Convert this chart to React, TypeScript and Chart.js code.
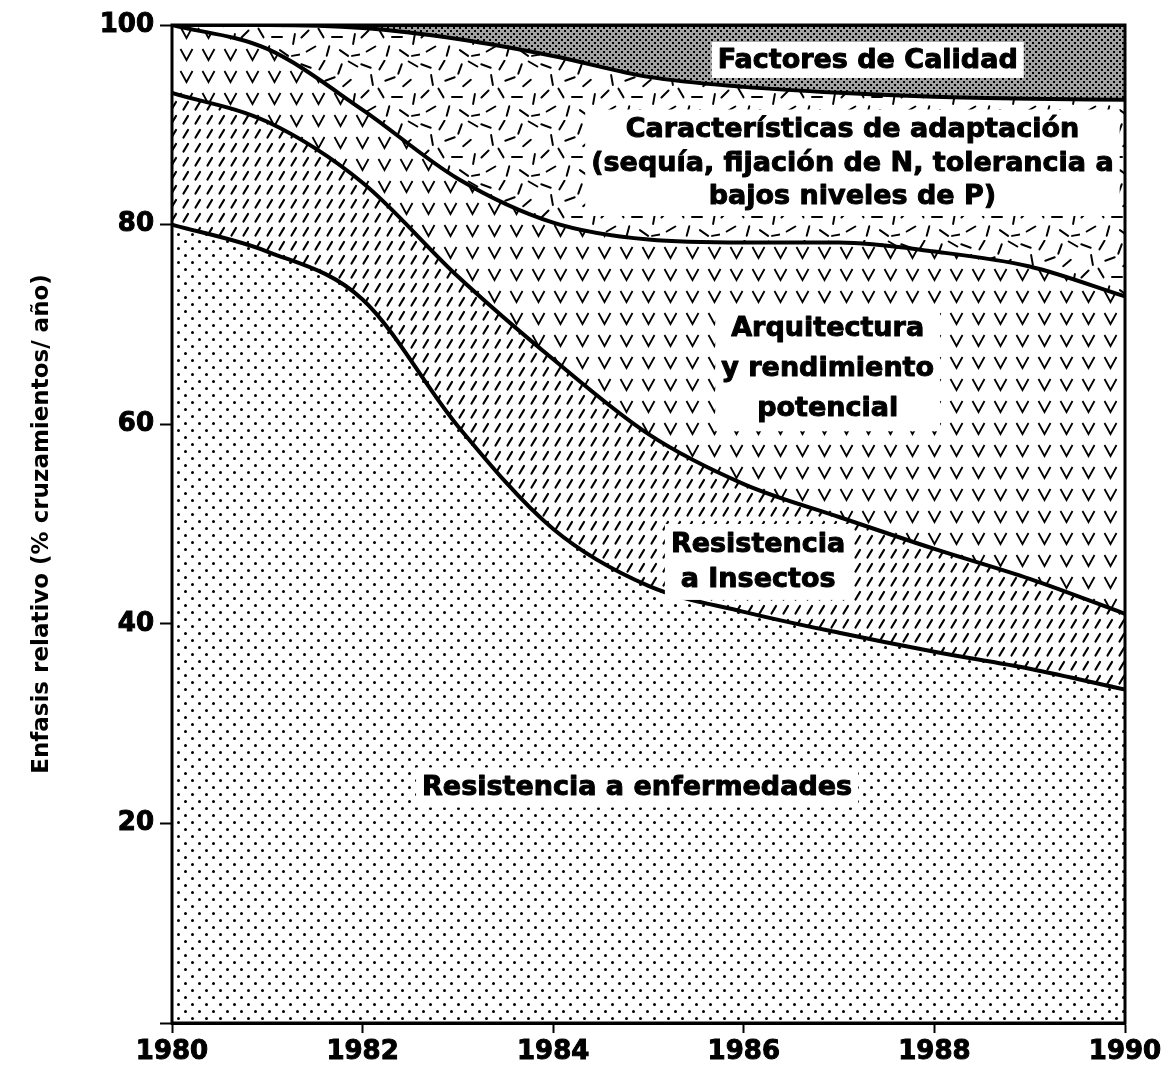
import React, { useEffect, useRef } from 'react';
import { Chart, registerables } from 'chart.js';

Chart.register(...registerables);

// ---- data ----
const years = [1980, 1981, 1982, 1983, 1984, 1985, 1986, 1987, 1988, 1989, 1990];
const disease = [80, 77.3, 72.5, 59.8, 49.5, 43.8, 41.2, 39.1, 37.2, 35.5, 33.4];
const insects = [13.2, 13, 11.7, 15, 17, 15.2, 12.8, 11.6, 10.3, 9, 7.6];
const architecture = [6.8, 7.3, 7.3, 9.8, 13.7, 19.5, 24.2, 27.5, 29.8, 31.3, 31.8];
const adaptation = [0, 2.4, 8.2, 14, 16.7, 16.3, 15.6, 15, 15.5, 16.8, 19.7];
const quality = [0, 0, 0.3, 1.4, 3.1, 5.2, 6.2, 6.8, 7.2, 7.4, 7.5];

const yAxisTitle = 'Enfasis relativo (% cruzamientos/ año)';

const areaLabels = [
  { lines: ['Factores de Calidad'], x: 1987.3, y: 96.5, lineH: 30 },
  {
    lines: ['Características de adaptación', '(sequía, fijación de N, tolerancia a', 'bajos niveles de P)'],
    x: 1987.14,
    y: 86.2,
    lineH: 33.5,
  },
  { lines: ['Arquitectura', 'y rendimiento', 'potencial'], x: 1986.88, y: 65.6, lineH: 40 },
  { lines: ['Resistencia', 'a Insectos'], x: 1986.15, y: 46.2, lineH: 35 },
  { lines: ['Resistencia a enfermedades'], x: 1984.88, y: 23.6, lineH: 34 },
];

const FONT = '"DejaVu Sans", "Liberation Sans", Arial, sans-serif';

// decorative dash layout for the "adaptation" texture tile: [cx, cy, angleDeg]
const adaptDashes = [
  [6, 6, 20], [22, 5, -60], [40, 9, 110], [53, 4, 30],
  [12, 20, 80], [30, 19, -20], [47, 23, 140], [5, 34, -45],
  [21, 33, 60], [37, 37, 0], [54, 39, 100], [11, 49, 150],
  [28, 51, -75], [44, 53, 35], [57, 55, -10],
];

function makePattern(
  ctx: CanvasRenderingContext2D,
  w: number,
  h: number,
  draw: (g: CanvasRenderingContext2D) => void,
  bg = '#ffffff'
) {
  const c = document.createElement('canvas');
  c.width = w;
  c.height = h;
  const g = c.getContext('2d')!;
  g.fillStyle = bg;
  g.fillRect(0, 0, w, h);
  g.fillStyle = '#000';
  g.strokeStyle = '#000';
  g.lineCap = 'round';
  draw(g);
  return ctx.createPattern(c, 'repeat')!;
}

export default function App() {
  const ref = useRef<HTMLCanvasElement | null>(null);

  useEffect(() => {
    const canvas = ref.current!;
    const ctx = canvas.getContext('2d')!;

    const dots = makePattern(ctx, 14, 14, (g) => {
      g.beginPath();
      g.arc(3.5, 3.5, 1.5, 0, Math.PI * 2);
      g.arc(10.5, 10.5, 1.5, 0, Math.PI * 2);
      g.fill();
    });
    const slashes = makePattern(ctx, 12, 14, (g) => {
      g.lineWidth = 2.2;
      g.beginPath();
      g.moveTo(3.5, 11.5);
      g.lineTo(8, 4);
      g.stroke();
    });
    const vees = makePattern(ctx, 22, 22, (g) => {
      g.lineWidth = 1.8;
      g.lineCap = 'butt';
      g.lineJoin = 'miter';
      g.beginPath();
      g.moveTo(4.5, 5);
      g.lineTo(10.5, 16);
      g.lineTo(16.5, 5);
      g.stroke();
    });
    const randomDashes = makePattern(ctx, 60, 60, (g) => {
      g.lineWidth = 2;
      for (const [cx, cy, a] of adaptDashes) {
        const r = (a * Math.PI) / 180;
        const dx = Math.cos(r) * 5;
        const dy = Math.sin(r) * 5;
        g.beginPath();
        g.moveTo(cx - dx, cy - dy);
        g.lineTo(cx + dx, cy + dy);
        g.stroke();
      }
    });
    const mesh = makePattern(
      ctx,
      6,
      6,
      (g) => {
        g.fillRect(0, 0, 2, 2);
        g.fillRect(3, 3, 2, 2);
      },
      '#a2a2a2'
    );

    const toPts = (arr: number[]) => years.map((x, i) => ({ x, y: arr[i] }));

    const common = {
      borderColor: '#000',
      borderWidth: 4,
      pointRadius: 0,
      cubicInterpolationMode: 'monotone' as const,
    };

    const framePlugin = {
      id: 'frameAndLabels',
      afterDatasetsDraw(chart: any) {
        const c = chart.ctx as CanvasRenderingContext2D;
        const { left, right, top, bottom } = chart.chartArea;
        c.save();
        c.strokeStyle = '#000';
        c.lineWidth = 3;
        c.strokeRect(left, top, right - left, bottom - top);

        const xs = chart.scales.x;
        const ys = chart.scales.y;
        c.font = `bold 27px ${FONT}`;
        c.textAlign = 'center';
        c.textBaseline = 'middle';
        c.lineJoin = 'round';
        for (const lab of areaLabels) {
          const cx = xs.getPixelForValue(lab.x);
          const cy = ys.getPixelForValue(lab.y);
          const w = Math.max(...lab.lines.map((l) => c.measureText(l).width));
          const h = lab.lines.length * lab.lineH;
          c.fillStyle = '#fff';
          c.fillRect(cx - w / 2 - 6, cy - h / 2 - 3, w + 12, h + 6);
          c.fillStyle = '#000';
          c.strokeStyle = '#000';
          c.lineWidth = 1;
          lab.lines.forEach((l, i) => {
            const ty = cy - h / 2 + lab.lineH * (i + 0.5) + 1;
            c.fillText(l, cx, ty);
            c.strokeText(l, cx, ty);
          });
        }
        c.restore();
      },
    };

    const chart = new Chart(ctx, {
      type: 'line',
      data: {
        datasets: [
          { ...common, label: 'Resistencia a enfermedades', data: toPts(disease), backgroundColor: dots, fill: 'origin' },
          { ...common, label: 'Resistencia a Insectos', data: toPts(insects), backgroundColor: slashes, fill: '-1' },
          { ...common, label: 'Arquitectura y rendimiento potencial', data: toPts(architecture), backgroundColor: vees, fill: '-1' },
          { ...common, label: 'Características de adaptación', data: toPts(adaptation), backgroundColor: randomDashes, fill: '-1' },
          { ...common, label: 'Factores de Calidad', data: toPts(quality), backgroundColor: mesh, fill: '-1' },
        ],
      },
      options: {
        animation: false,
        responsive: false,
        maintainAspectRatio: false,
        layout: { padding: { left: 0, top: 25, right: 48, bottom: 0 } },
        plugins: { legend: { display: false }, tooltip: { enabled: false } },
        scales: {
          x: {
            type: 'linear',
            min: 1980,
            max: 1990,
            afterFit: (s: any) => {
              s.height = 42;
            },
            ticks: {
              stepSize: 2,
              color: '#000',
              padding: 4,
              textStrokeColor: '#000',
              textStrokeWidth: 1,
              font: { family: FONT, weight: 'bold', size: 26 },
              callback: (v: any) => String(v),
            },
            grid: { display: true, drawOnChartArea: false, drawTicks: true, tickLength: 10, tickColor: '#000', tickWidth: 2 },
            border: { display: true, color: '#000', width: 3 },
          },
          y: {
            type: 'linear',
            stacked: true,
            min: 0,
            max: 100,
            afterFit: (s: any) => {
              s.width = 172;
            },
            title: {
              display: true,
              text: yAxisTitle,
              color: '#000',
              font: { family: FONT, weight: 'bold', size: 23 },
              padding: { top: 28, bottom: 0 },
            },
            ticks: {
              stepSize: 20,
              color: '#000',
              padding: 6,
              textStrokeColor: '#000',
              textStrokeWidth: 1,
              font: { family: FONT, weight: 'bold', size: 26 },
              callback: (v: any) => (v === 0 ? '' : String(v)),
            },
            grid: { display: true, drawOnChartArea: false, drawTicks: true, tickLength: 12, tickColor: '#000', tickWidth: 2 },
            border: { display: true, color: '#000', width: 3 },
          },
        },
      },
      plugins: [framePlugin],
    } as any);

    return () => chart.destroy();
  }, []);

  return (
    <div style={{ position: 'fixed', left: 0, top: 0, width: 1173, height: 1065, background: '#fff' }}>
      <canvas ref={ref} width={1173} height={1065} style={{ display: 'block', width: 1173, height: 1065 }} />
    </div>
  );
}
